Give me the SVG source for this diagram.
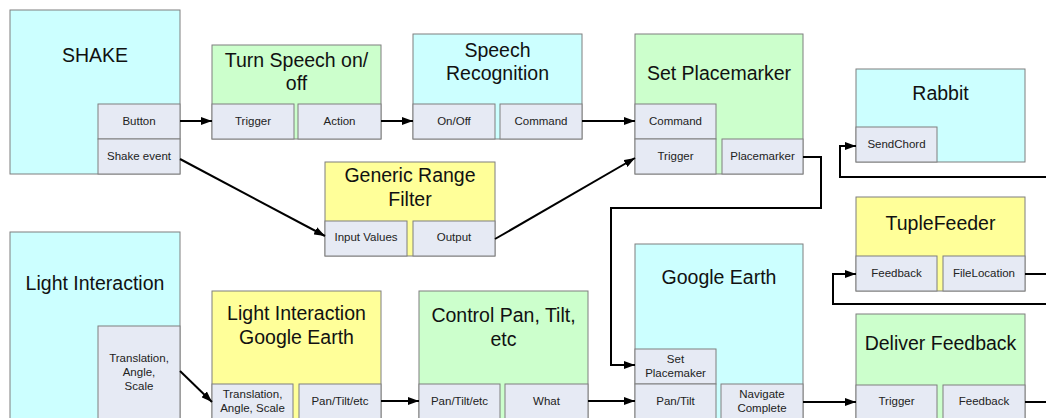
<svg xmlns="http://www.w3.org/2000/svg" width="1046" height="418" viewBox="0 0 1046 418">
<defs>
<style>
.box{stroke:#7f7f7f;stroke-width:1}
.cyan{fill:#ccffff}
.green{fill:#ccffcc}
.yellow{fill:#ffff99}
.port{fill:#e6eaf4;stroke:#7f7f7f;stroke-width:1}
.title{font-family:"Liberation Sans",Arial,sans-serif;font-size:19.5px;fill:#111;text-anchor:middle}
.pt{font-family:"Liberation Sans",Arial,sans-serif;font-size:11.5px;fill:#222;text-anchor:middle}
.conn{fill:none;stroke:#000;stroke-width:2}
</style>
<marker id="arr" markerUnits="userSpaceOnUse" markerWidth="11" markerHeight="8" refX="11" refY="4" orient="auto">
<path d="M0,0 L11,4 L0,8 z" fill="#000"/>
</marker>
</defs>
<rect width="1046" height="418" fill="#fff"/>

<g id="shake">
<rect class="box cyan" x="10" y="10" width="170" height="164"/>
<text class="title" x="95" y="62">SHAKE</text>
<rect class="port" x="98" y="104" width="82" height="35"/>
<text class="pt" x="139" y="125">Button</text>
<rect class="port" x="98" y="139" width="82" height="35"/>
<text class="pt" x="139" y="160">Shake event</text>
</g>

<g id="turn-speech">
<rect class="box green" x="212" y="45" width="169" height="94"/>
<text class="title" x="296.5" y="67">Turn Speech on/</text>
<text class="title" x="296.5" y="90">off</text>
<rect class="port" x="212" y="104" width="82" height="35"/>
<text class="pt" x="253" y="125">Trigger</text>
<rect class="port" x="298" y="104" width="83" height="35"/>
<text class="pt" x="339.5" y="125">Action</text>
</g>

<g id="speech-recognition">
<rect class="box cyan" x="413" y="34" width="169" height="105"/>
<text class="title" x="497.5" y="57">Speech</text>
<text class="title" x="497.5" y="80">Recognition</text>
<rect class="port" x="413" y="104" width="82" height="35"/>
<text class="pt" x="454" y="125">On/Off</text>
<rect class="port" x="500" y="104" width="82" height="35"/>
<text class="pt" x="541" y="125">Command</text>
</g>

<g id="set-placemarker">
<rect class="box green" x="635" y="34" width="168" height="140"/>
<text class="title" x="719" y="80">Set Placemarker</text>
<rect class="port" x="635" y="104" width="81" height="35"/>
<text class="pt" x="675.5" y="125">Command</text>
<rect class="port" x="635" y="139" width="81" height="35"/>
<text class="pt" x="675.5" y="160">Trigger</text>
<rect class="port" x="722" y="139" width="81" height="35"/>
<text class="pt" x="762.5" y="160">Placemarker</text>
</g>

<g id="rabbit">
<rect class="box cyan" x="856" y="69" width="169" height="93"/>
<text class="title" x="940.5" y="100">Rabbit</text>
<rect class="port" x="856" y="127" width="81" height="35"/>
<text class="pt" x="896.5" y="148">SendChord</text>
</g>

<g id="generic-range-filter">
<rect class="box yellow" x="325" y="162" width="170" height="94"/>
<text class="title" x="410" y="182">Generic Range</text>
<text class="title" x="410" y="206">Filter</text>
<rect class="port" x="325" y="221" width="82" height="35"/>
<text class="pt" x="366" y="241">Input Values</text>
<rect class="port" x="413" y="221" width="82" height="35"/>
<text class="pt" x="454" y="241">Output</text>
</g>

<g id="tuplefeeder">
<rect class="box yellow" x="856" y="197" width="169" height="94"/>
<text class="title" x="940.5" y="230">TupleFeeder</text>
<rect class="port" x="856" y="256" width="81" height="35"/>
<text class="pt" x="896.5" y="277">Feedback</text>
<rect class="port" x="943" y="256" width="82" height="35"/>
<text class="pt" x="984" y="277">FileLocation</text>
</g>

<g id="light-interaction">
<rect class="box cyan" x="10" y="232" width="170" height="200"/>
<text class="title" x="95" y="290">Light Interaction</text>
<rect class="port" x="98" y="326" width="82" height="106"/>
<text class="pt" x="139" y="362">Translation,</text>
<text class="pt" x="139" y="376">Angle,</text>
<text class="pt" x="139" y="390">Scale</text>
</g>

<g id="light-interaction-google-earth">
<rect class="box yellow" x="212" y="291" width="169" height="141"/>
<text class="title" x="296.5" y="320">Light Interaction</text>
<text class="title" x="296.5" y="344">Google Earth</text>
<rect class="port" x="212" y="384" width="81" height="48"/>
<text class="pt" x="252.5" y="398">Translation,</text>
<text class="pt" x="252.5" y="412">Angle, Scale</text>
<rect class="port" x="299" y="384" width="82" height="48"/>
<text class="pt" x="340" y="405">Pan/Tilt/etc</text>
</g>

<g id="control-pan-tilt">
<rect class="box green" x="419" y="291" width="169" height="141"/>
<text class="title" x="503.5" y="322">Control Pan, Tilt,</text>
<text class="title" x="503.5" y="346">etc</text>
<rect class="port" x="419" y="384" width="81" height="48"/>
<text class="pt" x="459.5" y="405">Pan/Tilt/etc</text>
<rect class="port" x="505" y="384" width="83" height="48"/>
<text class="pt" x="546.5" y="405">What</text>
</g>

<g id="google-earth">
<rect class="box cyan" x="635" y="244" width="168" height="188"/>
<text class="title" x="719" y="284">Google Earth</text>
<rect class="port" x="635" y="349" width="81" height="35"/>
<text class="pt" x="675.5" y="363">Set</text>
<text class="pt" x="675.5" y="377">Placemaker</text>
<rect class="port" x="635" y="384" width="81" height="48"/>
<text class="pt" x="675.5" y="405">Pan/Tilt</text>
<rect class="port" x="721" y="384" width="82" height="48"/>
<text class="pt" x="762" y="398">Navigate</text>
<text class="pt" x="762" y="412">Complete</text>
</g>

<g id="deliver-feedback">
<rect class="box green" x="856" y="314" width="169" height="118"/>
<text class="title" x="940.5" y="350">Deliver Feedback</text>
<rect class="port" x="856" y="385" width="81" height="47"/>
<text class="pt" x="896.5" y="405">Trigger</text>
<rect class="port" x="943" y="385" width="82" height="47"/>
<text class="pt" x="984" y="405">Feedback</text>
</g>

<g id="connectors">
<path class="conn" d="M180,121 H212" marker-end="url(#arr)"/>
<path class="conn" d="M381,121 H413" marker-end="url(#arr)"/>
<path class="conn" d="M582,121 H635" marker-end="url(#arr)"/>
<path class="conn" d="M180,159 L325,236" marker-end="url(#arr)"/>
<path class="conn" d="M495,239 L635,158" marker-end="url(#arr)"/>
<path class="conn" d="M803,157 H821 V208 H611 V365 H635" marker-end="url(#arr)"/>
<path class="conn" d="M1046,177 H840 V146 H856" marker-end="url(#arr)"/>
<path class="conn" d="M1025,274 H1046"/>
<path class="conn" d="M1046,304 H833 V274 H856" marker-end="url(#arr)"/>
<path class="conn" d="M803,402 H856" marker-end="url(#arr)"/>
<path class="conn" d="M1025,402 H1046"/>
<path class="conn" d="M381,401 H419" marker-end="url(#arr)"/>
<path class="conn" d="M588,401 H635" marker-end="url(#arr)"/>
<path class="conn" d="M180,371 L212,402" marker-end="url(#arr)"/>
</g>
</svg>
